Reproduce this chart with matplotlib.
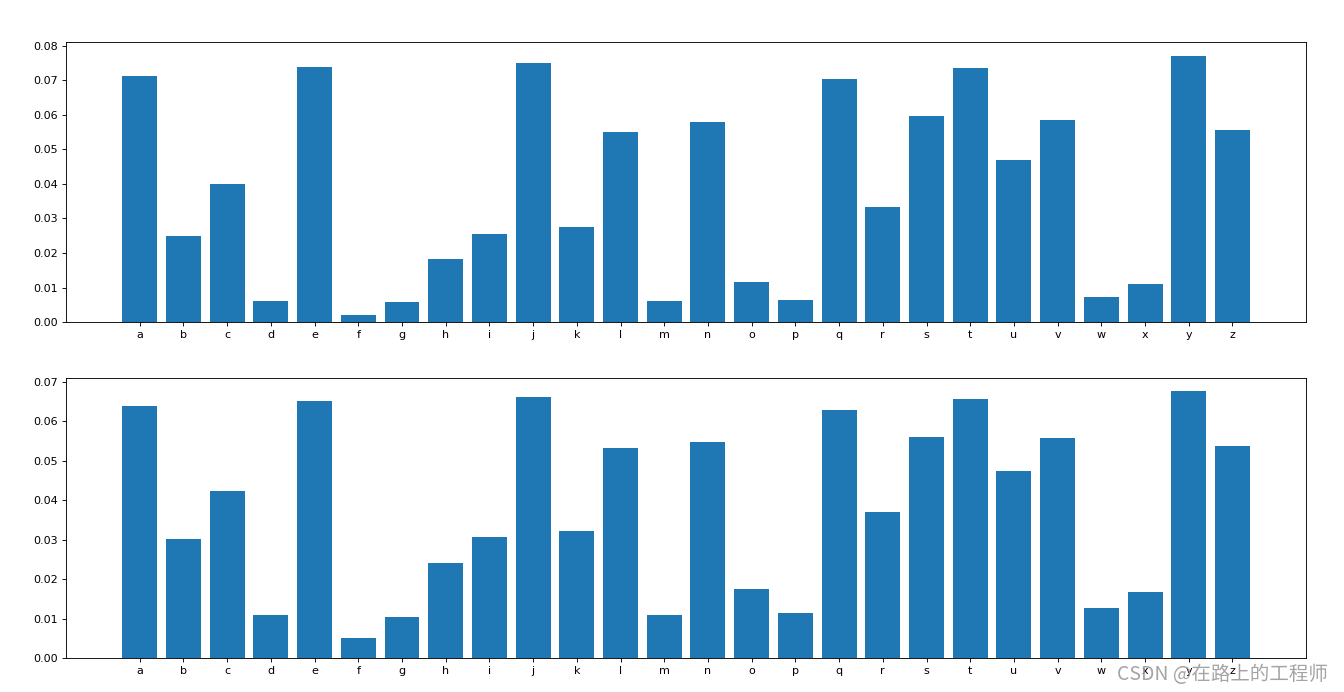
import matplotlib
matplotlib.use("Agg")
import matplotlib.pyplot as plt

letters = list("abcdefghijklmnopqrstuvwxyz")
freq_top = [0.0711, 0.0249, 0.0399, 0.0061, 0.0737, 0.0021, 0.0058, 0.0182, 0.0254,
            0.0748, 0.0274, 0.0549, 0.0061, 0.0578, 0.0116, 0.0064, 0.0702, 0.0332,
            0.0595, 0.0736, 0.0468, 0.0586, 0.0072, 0.0110, 0.0771, 0.0557]
freq_bottom = [0.0637, 0.0301, 0.0422, 0.0109, 0.0652, 0.0051, 0.0104, 0.0240, 0.0306,
               0.0660, 0.0321, 0.0531, 0.0109, 0.0548, 0.0174, 0.0114, 0.0629, 0.0369,
               0.0561, 0.0655, 0.0473, 0.0556, 0.0126, 0.0167, 0.0675, 0.0536]

fig, axes = plt.subplots(2, 1, figsize=(16.8, 8.65), dpi=80)
fig.subplots_adjust(left=0.049, right=0.972, top=0.939, bottom=0.049, hspace=0.2)

for ax, vals in zip(axes, [freq_top, freq_bottom]):
    ax.bar(letters, vals, color="#1f77b4", width=0.8)

fig.text(0.988, 0.010, "CSDN @在路上的工程师", ha="right", va="bottom", fontsize=17.5,
         color="#9a9a9a", alpha=0.9, family=["Noto Sans CJK SC", "DejaVu Sans"])

fig.savefig("out.png", dpi=80)
